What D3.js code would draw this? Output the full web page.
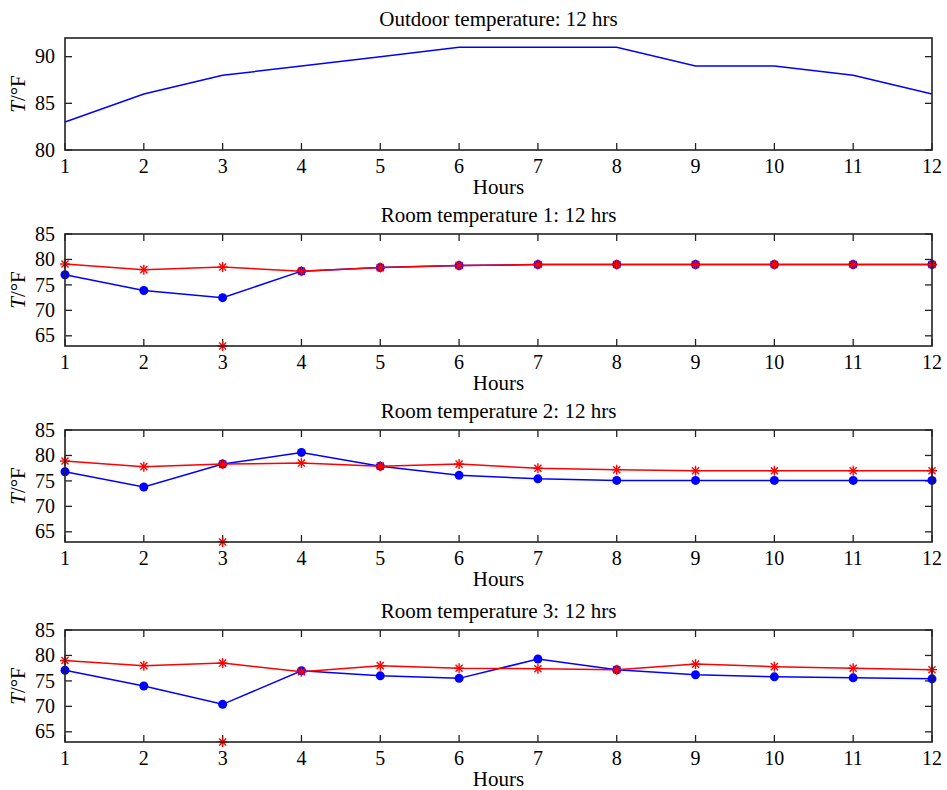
<!DOCTYPE html>
<html><head><meta charset="utf-8">
<script src="https://cdn.jsdelivr.net/npm/d3@7"></script>
<style>body{margin:0;background:#fff}svg{display:block}text{font-family:"Liberation Serif","Times New Roman",serif;fill:#000}</style>
</head><body><svg id="c" width="947" height="790"></svg>
<script>
const hours = [1,2,3,4,5,6,7,8,9,10,11,12];
const outdoor = [83,86,88,89,90,91,91,91,89,89,88,86];
const room1Blue = [77,73.9,72.5,77.7,78.4,78.8,79,79,79,79,79,79];
const room1Red  = [79.1,78,78.5,77.7,78.4,78.8,79,79,79,79,79,79];
const room2Blue = [76.8,73.8,78.3,80.6,77.9,76.1,75.4,75.1,75.1,75.1,75.1,75.1];
const room2Red  = [78.9,77.8,78.3,78.5,77.9,78.3,77.5,77.2,77.0,77.0,77.0,77.0];
const room3Blue = [77.1,74.0,70.4,77.0,76.0,75.5,79.3,77.2,76.2,75.8,75.6,75.4];
const room3Red  = [79.0,78.0,78.5,76.8,78.0,77.5,77.4,77.2,78.3,77.8,77.5,77.2];
const outlierHour = 3, outlierValue = 63;
const titles = ["Outdoor temperature: 12 hrs","Room temperature 1: 12 hrs","Room temperature 2: 12 hrs","Room temperature 3: 12 hrs"];
const yTicksOutdoor = [80,85,90];
const yTicksRoom = [65,70,75,80,85];

const svg = d3.select("#c");
const L = 65, R = 932, H = 112;
const tops = [38, 234, 430, 630];
const panels = [
  {title: titles[0], dom:[80,92], ticks:yTicksOutdoor, series:[{v:outdoor,c:"#0000ff",m:null}], outlier:false, topTicks:false},
  {title: titles[1], dom:[63,85], ticks:yTicksRoom, series:[{v:room1Blue,c:"#0000ff",m:"dot"},{v:room1Red,c:"#ff0000",m:"star"}], outlier:true, topTicks:true},
  {title: titles[2], dom:[63,85], ticks:yTicksRoom, series:[{v:room2Blue,c:"#0000ff",m:"dot"},{v:room2Red,c:"#ff0000",m:"star"}], outlier:true, topTicks:true},
  {title: titles[3], dom:[63,85], ticks:yTicksRoom, series:[{v:room3Blue,c:"#0000ff",m:"dot"},{v:room3Red,c:"#ff0000",m:"star"}], outlier:true, topTicks:true}
];
const FS = 21, TFS = 20;
function star(g, x, y, c){
  const s = 5;
  const p = g.append("g").attr("transform",`translate(${x},${y})`).attr("stroke",c).attr("stroke-width",1.4);
  [0,45,90,135].forEach(a=>{
    const r = a*Math.PI/180;
    p.append("line").attr("x1",-s*Math.cos(r)).attr("y1",-s*Math.sin(r)).attr("x2",s*Math.cos(r)).attr("y2",s*Math.sin(r));
  });
}
panels.forEach((p,i)=>{
  const top = tops[i], bot = top + H;
  const x = d3.scaleLinear().domain([1,12]).range([L,R]);
  const y = d3.scaleLinear().domain(p.dom).range([bot,top]);
  const g = svg.append("g");
  const tk = 7;
  const tg = g.append("g").attr("stroke","#222").attr("stroke-width",1.3);
  hours.forEach(h=>{
    tg.append("line").attr("x1",x(h)).attr("x2",x(h)).attr("y1",bot).attr("y2",bot-tk);
    if(p.topTicks) tg.append("line").attr("x1",x(h)).attr("x2",x(h)).attr("y1",top).attr("y2",top+tk);
    g.append("text").attr("x",x(h)).attr("y",bot+23).attr("text-anchor","middle").attr("font-size",TFS).text(h);
  });
  p.ticks.forEach(t=>{
    tg.append("line").attr("x1",L).attr("x2",L+tk).attr("y1",y(t)).attr("y2",y(t));
    tg.append("line").attr("x1",R).attr("x2",R-tk).attr("y1",y(t)).attr("y2",y(t));
    g.append("text").attr("x",L-10).attr("y",y(t)).attr("dy","0.33em").attr("text-anchor","end").attr("font-size",TFS).text(t);
  });
  p.series.forEach(s=>{
    const line = d3.line().x((d,j)=>x(hours[j])).y(d=>y(d));
    g.append("path").datum(s.v).attr("d",line).attr("fill","none").attr("stroke",s.c).attr("stroke-width",1.5);
    if(s.m==="dot"){
      g.selectAll(null).data(s.v).enter().append("circle").attr("cx",(d,j)=>x(hours[j])).attr("cy",d=>y(d)).attr("r",4.5).attr("fill",s.c);
    } else if(s.m==="star"){
      s.v.forEach((d,j)=>star(g,x(hours[j]),y(d),s.c));
    }
  });
  if(p.outlier) star(g, x(outlierHour), y(outlierValue), "#ff0000");
  g.append("rect").attr("x",L).attr("y",top).attr("width",R-L).attr("height",H).attr("fill","none").attr("stroke","#222").attr("stroke-width",1.6);
  g.append("text").attr("x",(L+R)/2).attr("y",top-12).attr("text-anchor","middle").attr("font-size",FS).text(p.title);
  g.append("text").attr("x",(L+R)/2).attr("y",bot+44).attr("text-anchor","middle").attr("font-size",FS).text("Hours");
  const yl = g.append("text").attr("transform",`translate(25,${top+H/2}) rotate(-90)`).attr("text-anchor","middle").attr("font-size",FS);
  yl.append("tspan").attr("font-style","italic").text("T");
  yl.append("tspan").text("/°F");
});
</script></body></html>
